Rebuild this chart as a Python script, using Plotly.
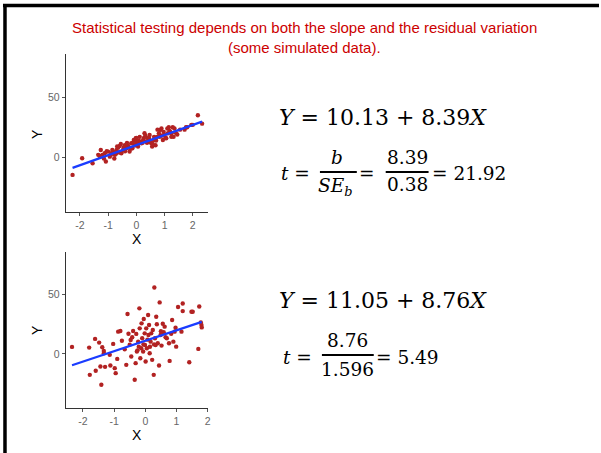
import plotly.graph_objects as go

W, H = 601, 453

# ---------------- data ----------------
x1 = [-2.26, -1.92, -1.55, -1.35, -1.26, -1.2, -1.12, -1.08, -1.0, -0.94, -0.88, -0.82, -0.76, -0.7,
      -0.68, -0.59, -0.53, -0.47, -0.41, -0.35, -0.29, -0.24, -0.18, -0.14, -0.09, -0.06, -0.02, 0.02,
      0.06, 0.12, 0.18, 0.24, 0.29, 0.35, 0.41, 0.47, 0.53, 0.56, 0.61, 0.68, 0.73, 0.8, 0.85, 0.89,
      0.94, 1.0, 1.06, 1.12, 1.15, 1.2, 1.24, 1.29, 1.35, 1.41, 1.71, 1.76, 2.0, 2.18, 2.33,
      -1.3, -1.15, -1.05, -0.9, -0.85, -0.78, -0.72, -0.65, -0.6, -0.55, -0.45, -0.4, -0.33, -0.26,
      -0.2, -0.12, -0.04, 0.0, 0.04, 0.08, 0.15, 0.22, 0.27, 0.32, 0.38, 0.45, 0.5, 0.58, 0.63, 0.7,
      0.75, 0.83, 0.9, 0.97, 1.03, 1.1, 1.18, 1.25, 1.32, 1.45, 1.55, 1.8, 1.95]
y1 = [-14.7, -0.8, -5, 2, 6, 2, 3.3, -3.6, 4.7, 0.5, 3.3, 4.7, 2, 6,
      9, 9.4, 3.3, 6, 10, 7.5, 9.4, 4.7, 11.7, 7.5, 14.4, 10, 15.8, 13,
      9, 17, 11.7, 14.4, 20, 13, 15.8, 18.6, 11.7, 9, 14.4, 10, 17, 20, 22.8, 24,
      14.4, 18.6, 15.8, 20, 25, 21, 17, 25, 24, 20, 23, 25, 27, 35, 28,
      1, -1, 5, 2, 6, -1, 3, 8, 4, 11, 8, 5, 12, 8,
      7, 12, 10, 16, 11, 14, 13, 12, 16, 18, 12, 16, 13, 11, 17, 14,
      23, 17, 18, 21, 16, 24, 22, 20, 17, 19, 23, 25, 27]

x2 = [-2.35, -1.8, -1.78, -1.61, -1.59, -1.48, -1.44, -1.41, -1.38, -1.33, -1.33, -1.29, -1.14, -1.12,
      -1.03, -0.98, -0.95, -0.9, -0.87, -0.8, -0.66, -0.61, -0.57, -0.54, -0.5, -0.47, -0.45, -0.39,
      -0.34, -0.31, -0.29, -0.27, -0.23, -0.21, -0.19, -0.18, -0.16, -0.13, -0.12, -0.1, -0.07, -0.05,
      -0.02, -0.01, 0.01, 0.03, 0.05, 0.09, 0.1, 0.12, 0.14, 0.17, 0.19, 0.22, 0.24, 0.27, 0.29, 0.31,
      0.33, 0.35, 0.37, 0.4, 0.44, 0.46, 0.49, 0.52, 0.56, 0.59, 0.62, 0.69, 0.76, 0.78, 0.86, 0.9,
      0.94, 0.97, 0.99, 1.05, 1.16, 1.2, 1.2, 1.41, 1.48, 1.52, 1.7, 1.73, 1.78, 1.8, 1.81,
      -0.75, -0.42, -0.25, 0.07, 0.28, 0.5, 0.65, 0.83, -0.06, 0.15]
y2 = [5.9, 5.3, -17.6, 12.6, -14.2, 9.5, -10.6, -26, 5.6, 2.5, 0.5, -10.9, -0.8, -9.8,
      8.4, -12, -16.2, -4.2, 18.7, 19.3, 3.9, -9.2, 33.5, 17, 7.8, 11.7, -2.2, 19.3,
      -21.8, -7.8, 16.8, 2, 10.3, 6.1, 38.3, 21.5, -3.6, 4.7, 25.7, 13.1, 2, 29.3,
      17.3, 7.5, -6.4, 21.5, 4.7, 32.7, 15.9, 24.3, 0.6, 10.3, 17.3, -5, 20.1, -17.6, 55.9, 13.1,
      7.5, 31.3, 24.9, 9, -9.8, 43.3, 15.9, 7, 25.4, 18.2, 22.9, 13.1, 9, -5.9, 28.5, 10.3,
      18.7, 22, 6.1, 39.4, 18.7, 42.4, 36, -7, 35.5, 35.5, 4.2, 39.9, 26.5, 24.3, 22.3,
      11, 14, 3, 12, 8, 19, 14, 17, 8, 6]

# fitted coefficients shown in the equations
intercepts = [10.13, 11.05]
slopes = [8.39, 8.76]
t_parts_1 = ["8.39", "0.38", "21.92"]
t_parts_2 = ["8.76", "1.596", "5.49"]

title_lines = ["Statistical testing depends on both the slope and the residual variation",
               "(some simulated data)."]
x_ticks = [-2, -1, 0, 1, 2]
x_tick_labels = ["-2", "-1", "0", "1", "2"]
y_ticks = [0, 50]
y_tick_labels = ["0", "50"]

# ---------------- helpers ----------------
def px(x):
    return x / W

def py(y):
    return 1 - y / H

fig = go.Figure()

point_color = "#B22222"
line_color = "#1A3CFF"

datasets = [(x1, y1), (x2, y2)]
for i, (xs, ys) in enumerate(datasets):
    ax = "" if i == 0 else "2"
    fig.add_trace(go.Scatter(x=xs, y=ys, mode="markers",
                             marker=dict(size=4.4, color=point_color),
                             xaxis="x" + ax, yaxis="y" + ax, showlegend=False,
                             hoverinfo="skip"))
    xl = [min(xs), max(xs)]
    yl = [intercepts[i] + slopes[i] * v for v in xl]
    fig.add_trace(go.Scatter(x=xl, y=yl, mode="lines",
                             line=dict(color=line_color, width=2.2),
                             xaxis="x" + ax, yaxis="y" + ax, showlegend=False,
                             hoverinfo="skip"))

axis_common = dict(showgrid=False, zeroline=False, showline=True, linecolor="#333333",
                   linewidth=1.1, ticks="outside", ticklen=3, tickcolor="#555555",
                   tickfont=dict(family="Liberation Sans, Arial", size=10.5, color="#666666"),
                   mirror=False, fixedrange=True)
xt = dict(tickvals=x_ticks, ticktext=x_tick_labels)
yt = dict(tickvals=y_ticks, ticktext=y_tick_labels)

fig.update_layout(
    width=W, height=H,
    margin=dict(l=0, r=0, t=0, b=0),
    paper_bgcolor="white", plot_bgcolor="white",
    xaxis=dict(domain=[px(66), px(209)], range=[-2.5, 2.55], anchor="y", **xt, **axis_common),
    yaxis=dict(domain=[py(212), py(54)], range=[-45.6, 86], anchor="x", **yt, **axis_common),
    xaxis2=dict(domain=[px(66), px(209)], range=[-2.55, 2.02], anchor="y2", **xt, **axis_common),
    yaxis2=dict(domain=[py(408), py(252)], range=[-45.5, 85.7], anchor="x2", **yt, **axis_common),
)

ann = []
# title
for k, yy in enumerate([28, 48]):
    ann.append(dict(x=px(306), y=py(yy), text=title_lines[k],
                    font=dict(family="Liberation Sans, Arial", size=15, color="#CC0000")))
# axis titles
for (xa, ya) in [((137, 238.5), (37, 134)), ((137, 435), (37, 330))]:
    ann.append(dict(x=px(xa[0]), y=py(xa[1]), text="X",
                    font=dict(family="Liberation Sans, Arial", size=14, color="black")))
    ann.append(dict(x=px(ya[0]), y=py(ya[1]), text="Y", textangle=-90,
                    font=dict(family="Liberation Sans, Arial", size=14, color="black")))

serif = "DejaVu Serif, Liberation Serif, serif"
eqfont = dict(family=serif, size=22, color="black")
frfont = dict(family=serif, size=18.5, color="black")

def eq_text(a, b):
    return f"<i>Y</i> = {a:.2f} + {b:.2f}<i>X</i>"

# equation 1
ann.append(dict(x=px(278), y=py(117), xanchor="left", text=eq_text(intercepts[0], slopes[0]), font=eqfont))
ann.append(dict(x=px(280), y=py(174), xanchor="left", text="<i>t</i> =", font=frfont))
ann.append(dict(x=px(338), y=py(157), text="<i>b</i>", font=frfont))
ann.append(dict(x=px(336), y=py(187), text="<i>SE</i><sub><i>b</i></sub>", font=frfont))
ann.append(dict(x=px(368), y=py(174), text="=", font=frfont))
ann.append(dict(x=px(409), y=py(157), text=t_parts_1[0], font=frfont))
ann.append(dict(x=px(409), y=py(184), text=t_parts_1[1], font=frfont))
ann.append(dict(x=px(431), y=py(174), xanchor="left", text="= " + t_parts_1[2], font=frfont))

# equation 2
ann.append(dict(x=px(278), y=py(300), xanchor="left", text=eq_text(intercepts[1], slopes[1]), font=eqfont))
ann.append(dict(x=px(282), y=py(357), xanchor="left", text="<i>t</i> =", font=frfont))
ann.append(dict(x=px(349), y=py(340), text=t_parts_2[0], font=frfont))
ann.append(dict(x=px(349), y=py(369), text=t_parts_2[1], font=frfont))
ann.append(dict(x=px(375), y=py(357), xanchor="left", text="= " + t_parts_2[2], font=frfont))

base = dict(xref="paper", yref="paper", showarrow=False, xanchor="center", yanchor="middle")
fig.update_layout(annotations=[{**base, **a} for a in ann])

shapes = [
    # slide border
    dict(type="line", x0=px(3), x1=1, y0=py(5.5), y1=py(5.5), line=dict(color="black", width=3.5)),
    dict(type="line", x0=px(5), x1=px(5), y0=py(4), y1=0, line=dict(color="black", width=3.5)),
    # fraction bars
    dict(type="line", x0=px(321), x1=px(358), y0=py(172), y1=py(172), line=dict(color="black", width=2)),
    dict(type="line", x0=px(387), x1=px(430), y0=py(172), y1=py(172), line=dict(color="black", width=2)),
    dict(type="line", x0=px(323), x1=px(375), y0=py(355), y1=py(355), line=dict(color="black", width=2)),
]
fig.update_layout(shapes=[dict(s, xref="paper", yref="paper") for s in shapes])

fig.write_html("out.html", config={"displayModeBar": False},
               post_script="document.body.style.margin='0';document.body.style.overflow='hidden';")
